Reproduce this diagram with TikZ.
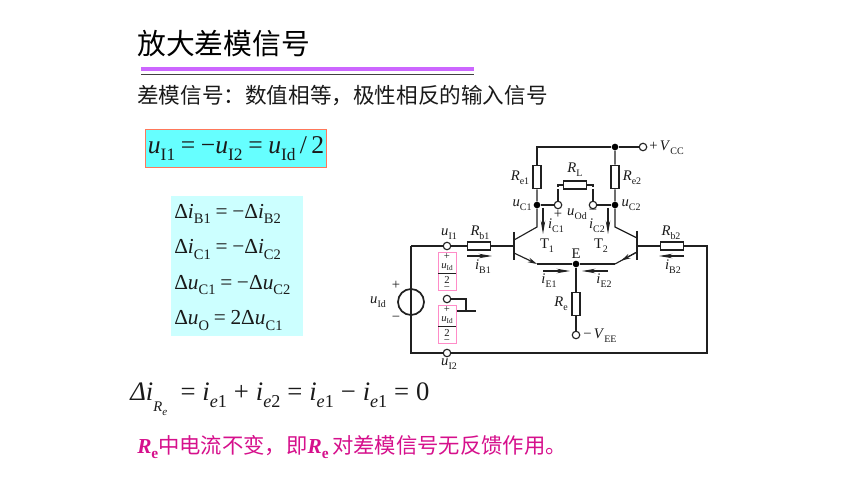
\documentclass[tikz,border=0pt]{standalone}
\usepackage{fontspec}
\setmainfont{Liberation Serif}
\newfontfamily\cjk{Noto Sans CJK SC}
\usetikzlibrary{arrows.meta,calc}
\newcommand\fs[1]{\fontsize{#1}{#1}\selectfont}
\newcommand\vs[2]{\textit{#1}\raisebox{-.26em}{\scalebox{.68}{#2}}}
\newcommand\ie[1]{\textit{i}\raisebox{-.25em}{\scalebox{.68}{\textit{e}#1}}}
\newcommand\dl{\textup{Δ}}
\newcommand\eqs{\kern.22em}
\newcommand\eqw{\kern.26em}
\definecolor{ink}{HTML}{1A1A1A}
\definecolor{wirec}{HTML}{202020}
\definecolor{pinkb}{HTML}{FF8CC8}
\definecolor{magt}{HTML}{D6108C}
\definecolor{purp}{HTML}{CC66FF}
\definecolor{coral}{HTML}{FF785A}
\definecolor{cyanA}{HTML}{66FFFF}
\definecolor{cyanB}{HTML}{CCFFFF}
\tikzset{
  wire/.style={draw=wirec,line width=.85pt},
  res/.style={draw=wirec,line width=1.2pt,fill=white,inner sep=0pt,minimum width=17.5pt,minimum height=6pt},
  vres/.style={draw=wirec,line width=1.2pt,fill=white,inner sep=0pt,minimum width=6pt,minimum height=17.5pt},
  opn/.style={circle,draw=wirec,line width=.85pt,fill=white,inner sep=0pt,minimum size=5.6pt},
  dot/.style={circle,fill=black,inner sep=0pt,minimum size=5pt},
  lab/.style={font=\fs{11},text=ink,inner sep=0pt},
  tiny/.style={font=\fs{8},text=ink,inner sep=0pt},
  cur/.style={draw=wirec,line width=.8pt,-{Stealth[length=10pt,width=3.4pt]}},
  emt/.style={draw=wirec,line width=.85pt,-{Stealth[length=7pt,width=3.6pt]}},
  bar/.style={draw=wirec,line width=1.3pt},
  frac/.style={draw=pinkb,line width=.7pt,inner sep=0pt,minimum width=13.5pt,minimum height=29.2pt},
  eqn/.style={anchor=west,inner sep=0pt,font=\fs{16},text=ink},
}
\begin{document}
\begin{tikzpicture}[x=.75pt,y=-.75pt]
\useasboundingbox (0,0) rectangle (860,484);
\fill[white] (0,0) rectangle (860,484);
% heading
\node[anchor=west,inner sep=0pt,font=\cjk\fs{21.6},text=black] (title) at (137,44) {放大差模信号};
\coordinate (pa) at (141,69); \coordinate (pb) at (474,69);
\coordinate (ga) at (141,74); \coordinate (gb) at (474,74);
\draw[line width=3pt,draw=purp] (pa)--(pb);
\draw[line width=.6pt,draw=black!75] (ga)--(gb);
\node[anchor=west,inner sep=0pt,font=\cjk\fs{16.2},text=ink] (sub) at (137,96) {差模信号：数值相等，极性相反的输入信号};
% formula boxes
\node[draw=coral,line width=.8pt,fill=cyanA,minimum width=136pt,minimum height=29pt,inner sep=0pt,font=\fs{19.2},text=ink] (f1) at (236,148.5)
  {\vs{u}{I1}\eqs=\eqs−\vs{u}{I2}\eqs=\eqs\vs{u}{Id}\,/\,2};
\node[fill=cyanB,minimum width=99pt,minimum height=105pt,inner sep=0pt] (f2) at (237,266) {};
\node[eqn] (e1) at (174,214) {\dl\vs{i}{B1}\eqs=\eqs−\dl\vs{i}{B2}};
\node[eqn] (e2) at (174,249.5) {\dl\vs{i}{C1}\eqs=\eqs−\dl\vs{i}{C2}};
\node[eqn] (e3) at (174,285) {\dl\vs{u}{C1}\eqs=\eqs−\dl\vs{u}{C2}};
\node[eqn] (e4) at (174,320.5) {\dl\vs{u}{O}\eqs=\eqs2\dl\vs{u}{C1}};
\node[anchor=west,inner sep=0pt,font=\fs{20},text=ink] (e5) at (130,399)
  {\textit{Δi}\raisebox{-.42em}{\scalebox{.55}{\textit{R}\raisebox{-.25em}{\scalebox{.75}{\textit{e}}}}}\kern.5em=\eqw\ie{1}\eqw+\eqw\ie{2}\eqw=\eqw\ie{1}\eqw−\eqw\ie{1}\eqw=\eqw 0};
\node[anchor=west,inner sep=0pt,font=\fs{16},text=magt] (note) at (137,447)
  {\textbf{\textit{R}\raisebox{-.25em}{\scalebox{.72}{e}}}{\cjk 中电流不变，即}\textbf{\textit{R}\raisebox{-.25em}{\scalebox{.72}{e}}}\,{\cjk 对差模信号无反馈作用。}};
% circuit nodes
\node[dot] (vtop) at (615,147) {};
\node[opn] (vcc) at (643,147) {};
\node[vres] (rc1) at (537,177) {};
\node[vres] (rc2) at (615,177) {};
\node[dot] (c1) at (537,205) {};
\node[dot] (c2) at (615,205) {};
\node[opn] (o1) at (558,205) {};
\node[opn] (o2) at (593,205) {};
\node[res] (rload) at (575,185) {};
\coordinate (c1k) at (537,227); \coordinate (c2k) at (615,227);
\coordinate (b1t) at (514,232); \coordinate (b1b) at (514,260); \coordinate (b1) at (514,246);
\coordinate (b2t) at (637,231); \coordinate (b2b) at (637,260); \coordinate (b2) at (637,246);
\coordinate (c1e) at (514,240); \coordinate (c2e) at (637,238);
\coordinate (e1s) at (514,253); \coordinate (e1k) at (537,264);
\coordinate (e2s) at (637,252); \coordinate (e2k) at (615,264);
\node[dot] (E) at (576,264) {};
\node[vres] (re) at (576,304) {};
\node[opn] (vee) at (576,335) {};
\node[res] (rb1) at (479,246) {};
\node[res] (rb2) at (672,246) {};
\node[opn] (i1) at (447,246) {};
\node[opn] (i2) at (447,353) {};
\node[opn] (mid) at (447,299) {};
\coordinate (ltop) at (411,246); \coordinate (lbot) at (411,353);
\coordinate (rtop) at (707,246); \coordinate (rbot) at (707,353);
\node[circle,draw=wirec,line width=1.3pt,inner sep=0pt,minimum size=19.5pt] (src) at (411,302) {};
\coordinate (gk) at (466,299); \coordinate (gd) at (466,311);
\coordinate (gl) at (456,311); \coordinate (gr) at (476,311);
% wires
\draw[wire] (rc1.north) |- (vtop) -- (vcc);
\draw[wire] (rc1.south) -- (c1) -- (c1k) -- (c1e);
\draw[wire] (vtop) -- (rc2.north) (rc2.south) -- (c2) -- (c2k) -- (c2e);
\draw[wire] (c1) -- (o1) (c2) -- (o2);
\draw[wire,dash pattern=on 9pt off 1.5pt] (o1) |- (rload.west);
\draw[wire,dash pattern=on 9pt off 1.5pt] (o2) |- (rload.east);
\draw[bar] (b1t) -- (b1b);
\draw[bar] (b2t) -- (b2b);
\draw[wire] (ltop) -- (i1) -- (rb1) -- (b1);
\draw[wire] (b2) -- (rb2) -- (rtop) -- (rbot) -- (i2) -- (lbot) -- (ltop);
\draw[wire] (e1k) -- (E) -- (e2k);
\draw[emt] (e1s) -- (e1k);
\draw[wire] (e2s) -- (e2k);
\draw[emt] (e2s) -- ($(e2s)!.72!(e2k)$);
\draw[wire] (E) -- (re) -- (vee);
\draw[wire] (mid) -- (gk) -- (gd);
\draw[wire,line width=1.1pt] (gl) -- (gr);
\node[frac,fill=white] (fa) at (447,271.5) {};
\node[frac,fill=white] (fb) at (447,324.5) {};
% fraction contents
\coordinate (fa1) at (438,273); \coordinate (fa2) at (456,273);
\coordinate (fb1) at (438,326); \coordinate (fb2) at (456,326);
\draw[draw=wirec,line width=.6pt] (fa1)--(fa2) (fb1)--(fb2);
\node[tiny] (fap) at (447,256) {+};
\node[tiny] (fau) at (447,267) {\vs{u}{Id}};
\node[tiny] (fa2t) at (447,280) {2};
\node[tiny] (fam) at (447,289) {−};
\node[tiny] (fbp) at (447,309) {+};
\node[tiny] (fbu) at (447,320) {\vs{u}{Id}};
\node[tiny] (fb2t) at (447,333) {2};
\node[tiny] (fbm) at (447,342) {−};
% current arrows
\coordinate (ab1s) at (467,256); \coordinate (ab1e) at (492,256);
\coordinate (ab2s) at (684,256); \coordinate (ab2e) at (659,256);
\coordinate (ac1s) at (543,208); \coordinate (ac1e) at (543,234);
\coordinate (ac2s) at (608,208); \coordinate (ac2e) at (608,234);
\coordinate (ae1s) at (543,271); \coordinate (ae1e) at (570,271);
\coordinate (ae2s) at (608,271); \coordinate (ae2e) at (582,271);
\draw[cur] (ab1s)--(ab1e);
\draw[cur] (ab2s)--(ab2e);
\draw[cur] (ac1s)--(ac1e);
\draw[cur] (ac2s)--(ac2e);
\draw[cur] (ae1s)--(ae1e);
\draw[cur] (ae2s)--(ae2e);
% labels
\node[lab,anchor=west] (lvcc) at (649,148) {+\,\vs{V}{CC}};
\node[lab,anchor=west] (lvee) at (583,336) {−\,\vs{V}{EE}};
\node[lab] (lrc1) at (520,178) {\vs{R}{e1}};
\node[lab] (lrc2) at (632,178) {\vs{R}{e2}};
\node[lab] (lrl) at (575,170) {\vs{R}{L}};
\node[lab] (luc1) at (522,205) {\vs{u}{C1}};
\node[lab] (luc2) at (631,205) {\vs{u}{C2}};
\node[lab] (lpl) at (558,214) {+};
\node[lab] (luod) at (577,214) {\vs{u}{Od}};
\node[lab] (lmn) at (593,212) {−};
\node[lab] (lic1) at (556,226) {\vs{i}{C1}};
\node[lab] (lic2) at (597,226) {\vs{i}{C2}};
\node[lab] (lt1) at (547,246) {\vs{\textup{T}}{1}};
\node[lab] (lt2) at (601,246) {\vs{\textup{T}}{2}};
\node[lab] (lE) at (576,254) {E};
\node[lab] (lie1) at (549,281) {\vs{i}{E1}};
\node[lab] (lie2) at (604,281) {\vs{i}{E2}};
\node[lab] (lre) at (561,304) {\vs{R}{e}};
\node[lab] (lrb1) at (480,233) {\vs{R}{b1}};
\node[lab] (lrb2) at (671,233) {\vs{R}{b2}};
\node[lab] (lib1) at (483,267) {\vs{i}{B1}};
\node[lab] (lib2) at (673,267) {\vs{i}{B2}};
\node[lab] (lui1) at (449,234) {\vs{u}{I1}};
\node[lab] (lui2) at (449,364) {\vs{u}{I2}};
\node[lab] (luid) at (378,302) {\vs{u}{Id}};
\node[lab] (lsp) at (396,285) {+};
\node[lab] (lsm) at (396,319) {−};
\end{tikzpicture}
\end{document}
